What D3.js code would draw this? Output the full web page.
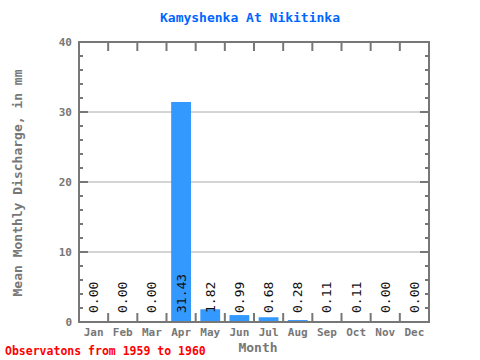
<!DOCTYPE html>
<html><head><meta charset="utf-8">
<script src="https://cdn.jsdelivr.net/npm/d3@7"></script>
<style>body{margin:0;background:#fff}svg{display:block}text{font-family:"DejaVu Sans Mono",monospace}</style>
</head><body><svg width="480" height="360"></svg>
<script>
const months = ["Jan","Feb","Mar","Apr","May","Jun","Jul","Aug","Sep","Oct","Nov","Dec"];
const values = [0.00,0.00,0.00,31.43,1.82,0.99,0.68,0.28,0.11,0.11,0.00,0.00];
const labels = ["0.00","0.00","0.00","31.43","1.82","0.99","0.68","0.28","0.11","0.11","0.00","0.00"];
const yTicks = [0,10,20,30,40];
const title = "Kamyshenka At Nikitinka";
const xTitle = "Month";
const yTitle = "Mean Monthly Discharge, in mm";
const footer = "Observatons from 1959 to 1960";

const L=79,R=429,T=42,B=322;
const svg=d3.select("svg");
const x=d3.scaleBand().domain(months).range([L,R]).paddingInner(0.32).paddingOuter(0.16);
const xb=d3.scaleLinear().domain([0,12]).range([L,R]);
const y=d3.scaleLinear().domain([0,40]).range([B,T]);
const axisCol="#777";

// gridlines
svg.append("g").selectAll("line").data([10,20,30]).join("line")
 .attr("x1",L).attr("x2",R).attr("y1",d=>y(d)).attr("y2",d=>y(d))
 .attr("stroke","#aaa").attr("stroke-width",1);

// bars
svg.append("g").selectAll("rect").data(values).join("rect")
 .attr("x",(d,i)=>x(months[i])).attr("width",x.bandwidth())
 .attr("y",d=>y(d)).attr("height",d=>B-y(d)).attr("fill","#3399ff");

// ticks
const minor=d3.range(0,41,2);
const tg=svg.append("g").attr("stroke",axisCol).attr("stroke-width",2);
minor.forEach(v=>{
  const len = v%10===0?9:4;
  tg.append("line").attr("x1",L).attr("x2",L+len).attr("y1",y(v)).attr("y2",y(v));
  tg.append("line").attr("x1",R).attr("x2",R-len).attr("y1",y(v)).attr("y2",y(v));
});
d3.range(1,12).forEach(i=>{
  tg.append("line").attr("x1",xb(i)).attr("x2",xb(i)).attr("y1",T).attr("y2",T+9);
  tg.append("line").attr("x1",xb(i)).attr("x2",xb(i)).attr("y1",B).attr("y2",B-9);
});
// frame
svg.append("rect").attr("x",L).attr("y",T).attr("width",R-L).attr("height",B-T)
 .attr("fill","none").attr("stroke",axisCol).attr("stroke-width",2);

// y tick labels
svg.append("g").selectAll("text").data(yTicks).join("text")
 .attr("x",72).attr("y",d=>y(d)+4).attr("text-anchor","end")
 .attr("font-size",11).attr("font-weight","bold").attr("fill",axisCol).text(d=>d);

// x tick labels
svg.append("g").selectAll("text").data(months).join("text")
 .attr("x",d=>x(d)+x.bandwidth()/2).attr("y",336).attr("text-anchor","middle")
 .attr("font-size",11).attr("font-weight","bold").attr("fill",axisCol).text(d=>d);

// value labels
svg.append("g").selectAll("text").data(labels).join("text")
 .attr("transform",(d,i)=>`translate(${x(months[i])+x.bandwidth()/2+4.5},${313}) rotate(-90)`)
 .attr("font-size",13).attr("fill","#111").text(d=>d);

// titles
svg.append("text").attr("x",250).attr("y",22).attr("text-anchor","middle")
 .attr("font-size",13).attr("font-weight","bold").attr("fill","#0066ff").text(title);
svg.append("text").attr("x",258).attr("y",352).attr("text-anchor","middle")
 .attr("font-size",13).attr("font-weight","bold").attr("fill",axisCol).text(xTitle);
svg.append("text").attr("transform","translate(22,183) rotate(-90)").attr("text-anchor","middle")
 .attr("font-size",13).attr("font-weight","bold").attr("fill",axisCol).text(yTitle);
svg.append("text").attr("x",5).attr("y",355)
 .attr("font-size",11.5).attr("font-weight","bold").attr("fill","#ff0000").text(footer);
</script></body></html>
